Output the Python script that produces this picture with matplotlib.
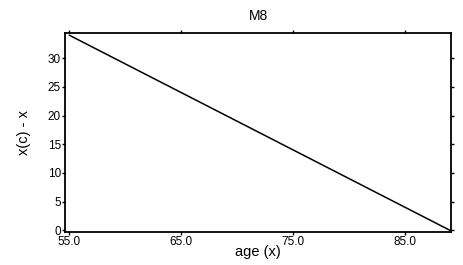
import matplotlib
matplotlib.use("Agg")
import matplotlib.pyplot as plt

plt.rcParams['font.family'] = ['Liberation Sans', 'DejaVu Sans']

# age (x) and x(c) - x
age = [55, 56, 57, 58, 59, 60, 61, 62, 63, 64, 65, 66, 67, 68, 69, 70, 71, 72,
       73, 74, 75, 76, 77, 78, 79, 80, 81, 82, 83, 84, 85, 86, 87, 88, 89]
diff = [34, 33, 32, 31, 30, 29, 28, 27, 26, 25, 24, 23, 22, 21, 20, 19, 18, 17,
        16, 15, 14, 13, 12, 11, 10, 9, 8, 7, 6, 5, 4, 3, 2, 1, 0]
xticks = [55, 65, 75, 85]
xticklabels = ['55.0', '65.0', '75.0', '85.0']
yticks = [0, 5, 10, 15, 20, 25, 30]

fig = plt.figure(figsize=(4.63, 2.65), dpi=100)
ax = fig.add_axes([65 / 463, 1 - 232 / 265, 386 / 463, 199 / 265])
ax.plot(age, diff, color='black', linewidth=1.1)

ax.set_xlim(54.6, 89.1)
ax.set_ylim(-0.3, 34.4)
ax.set_xticks(xticks)
ax.set_xticklabels(xticklabels)
ax.set_yticks(yticks)
ax.tick_params(axis='both', labelsize=8.5, length=2, width=1, pad=1, direction='out',
               top=True, right=True)

for s in ['left', 'bottom', 'top', 'right']:
    ax.spines[s].set_linewidth(1.3)
    ax.spines[s].set_color('black')

ax.set_title('M8', fontsize=10, pad=9)
ax.set_xlabel('age (x)', fontsize=10.5, labelpad=-2)
ax.set_ylabel('x(c) - x', fontsize=10.5, labelpad=12)

fig.savefig('out.png', dpi=100)
